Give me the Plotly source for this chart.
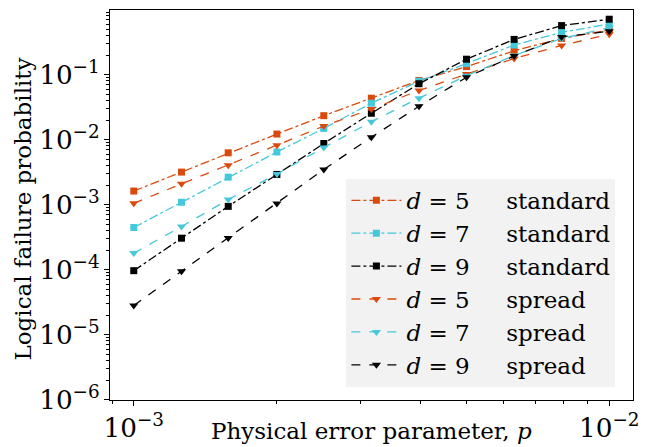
import plotly.graph_objects as go

# Physical error rates p (log-spaced between 1e-3 and 1e-2)
p_values = [1.00e-3, 1.26e-3, 1.58e-3, 2.00e-3, 2.51e-3, 3.16e-3,
            3.98e-3, 5.01e-3, 6.31e-3, 7.94e-3, 1.00e-2]

d5_standard = [1.62e-3, 3.17e-3, 6.28e-3, 1.22e-2, 2.34e-2, 4.35e-2,
               8.16e-2, 0.133, 0.233, 0.361, 0.486]
d7_standard = [4.45e-4, 1.09e-3, 2.65e-3, 6.47e-3, 1.49e-2, 3.64e-2,
               7.93e-2, 0.148, 0.286, 0.448, 0.602]
d9_standard = [9.65e-5, 3.05e-4, 9.42e-4, 2.92e-3, 8.73e-3, 2.55e-2,
               7.25e-2, 0.173, 0.349, 0.569, 0.713]
d5_spread = [1.05e-3, 2.09e-3, 4.03e-3, 8.22e-3, 1.62e-2, 2.97e-2,
             5.71e-2, 0.102, 0.177, 0.282, 0.417]
d7_spread = [1.80e-4, 4.61e-4, 1.20e-3, 2.97e-3, 7.57e-3, 1.89e-2,
             4.35e-2, 0.0965, 0.197, 0.361, 0.526]
d9_spread = [2.82e-5, 9.48e-5, 3.08e-4, 1.04e-3, 3.49e-3, 1.09e-2,
             3.27e-2, 0.0914, 0.194, 0.381, 0.465]

series = [
    (5, "standard", d5_standard),
    (7, "standard", d7_standard),
    (9, "standard", d9_standard),
    (5, "spread", d5_spread),
    (7, "spread", d7_spread),
    (9, "spread", d9_spread),
]

colors = {5: "#db4a0d", 7: "#45c8da", 9: "#000000"}
FONT = "'DejaVu Serif', serif"

fig = go.Figure()
for d, kind, vals in series:
    is_std = kind == "standard"
    fig.add_trace(go.Scatter(
        x=p_values, y=vals, mode="lines+markers",
        name=f"<i>d</i> = {d}&nbsp;&nbsp;&nbsp;&nbsp;&nbsp;{kind}",
        line=dict(color=colors[d], width=1.3, dash="dashdot" if is_std else "dash"),
        marker=dict(symbol="square" if is_std else "triangle-down",
                    size=7 if is_std else 8, color=colors[d]),
    ))

axis_common = dict(
    type="log", showline=True, linecolor="black", linewidth=1.2, mirror=True,
    showgrid=False, zeroline=False, ticks="outside", ticklen=5, tickwidth=1,
    tickcolor="black", exponentformat="power", dtick=1, automargin=False,
    tickfont=dict(family=FONT, size=21, color="black"),
    minor=dict(ticks="outside", ticklen=3, tickwidth=0.8, tickcolor="black",
               dtick="D1", showgrid=False),
)

fig.update_layout(
    width=658, height=447,
    margin=dict(l=110, r=25, t=10, b=47),
    paper_bgcolor="white", plot_bgcolor="white",
    font=dict(family=FONT, color="black"),
    xaxis=dict(range=[-3.05, -1.95], **axis_common),
    yaxis=dict(range=[-6.005, -0.005], **axis_common),
    legend=dict(
        x=0.452, y=0.567, xanchor="left", yanchor="top",
        bgcolor="#f2f2f2", borderwidth=0,
        font=dict(family=FONT, size=23, color="black"),
        itemwidth=50, tracegroupgap=0,
    ),
    showlegend=True,
    annotations=[
        dict(text="Physical error parameter, <i>p</i>", xref="paper", yref="paper",
             x=0.5, y=-0.08, xanchor="center", yanchor="middle", showarrow=False,
             font=dict(family=FONT, size=23, color="black")),
        dict(text="Logical failure probability", xref="paper", yref="paper",
             x=-0.167, y=0.49, xanchor="center", yanchor="middle", showarrow=False,
             textangle=-90, font=dict(family=FONT, size=23, color="black")),
    ],
)

fig.write_html("out.html", config={"displayModeBar": False},
               post_script="document.body.style.margin='0px';")
